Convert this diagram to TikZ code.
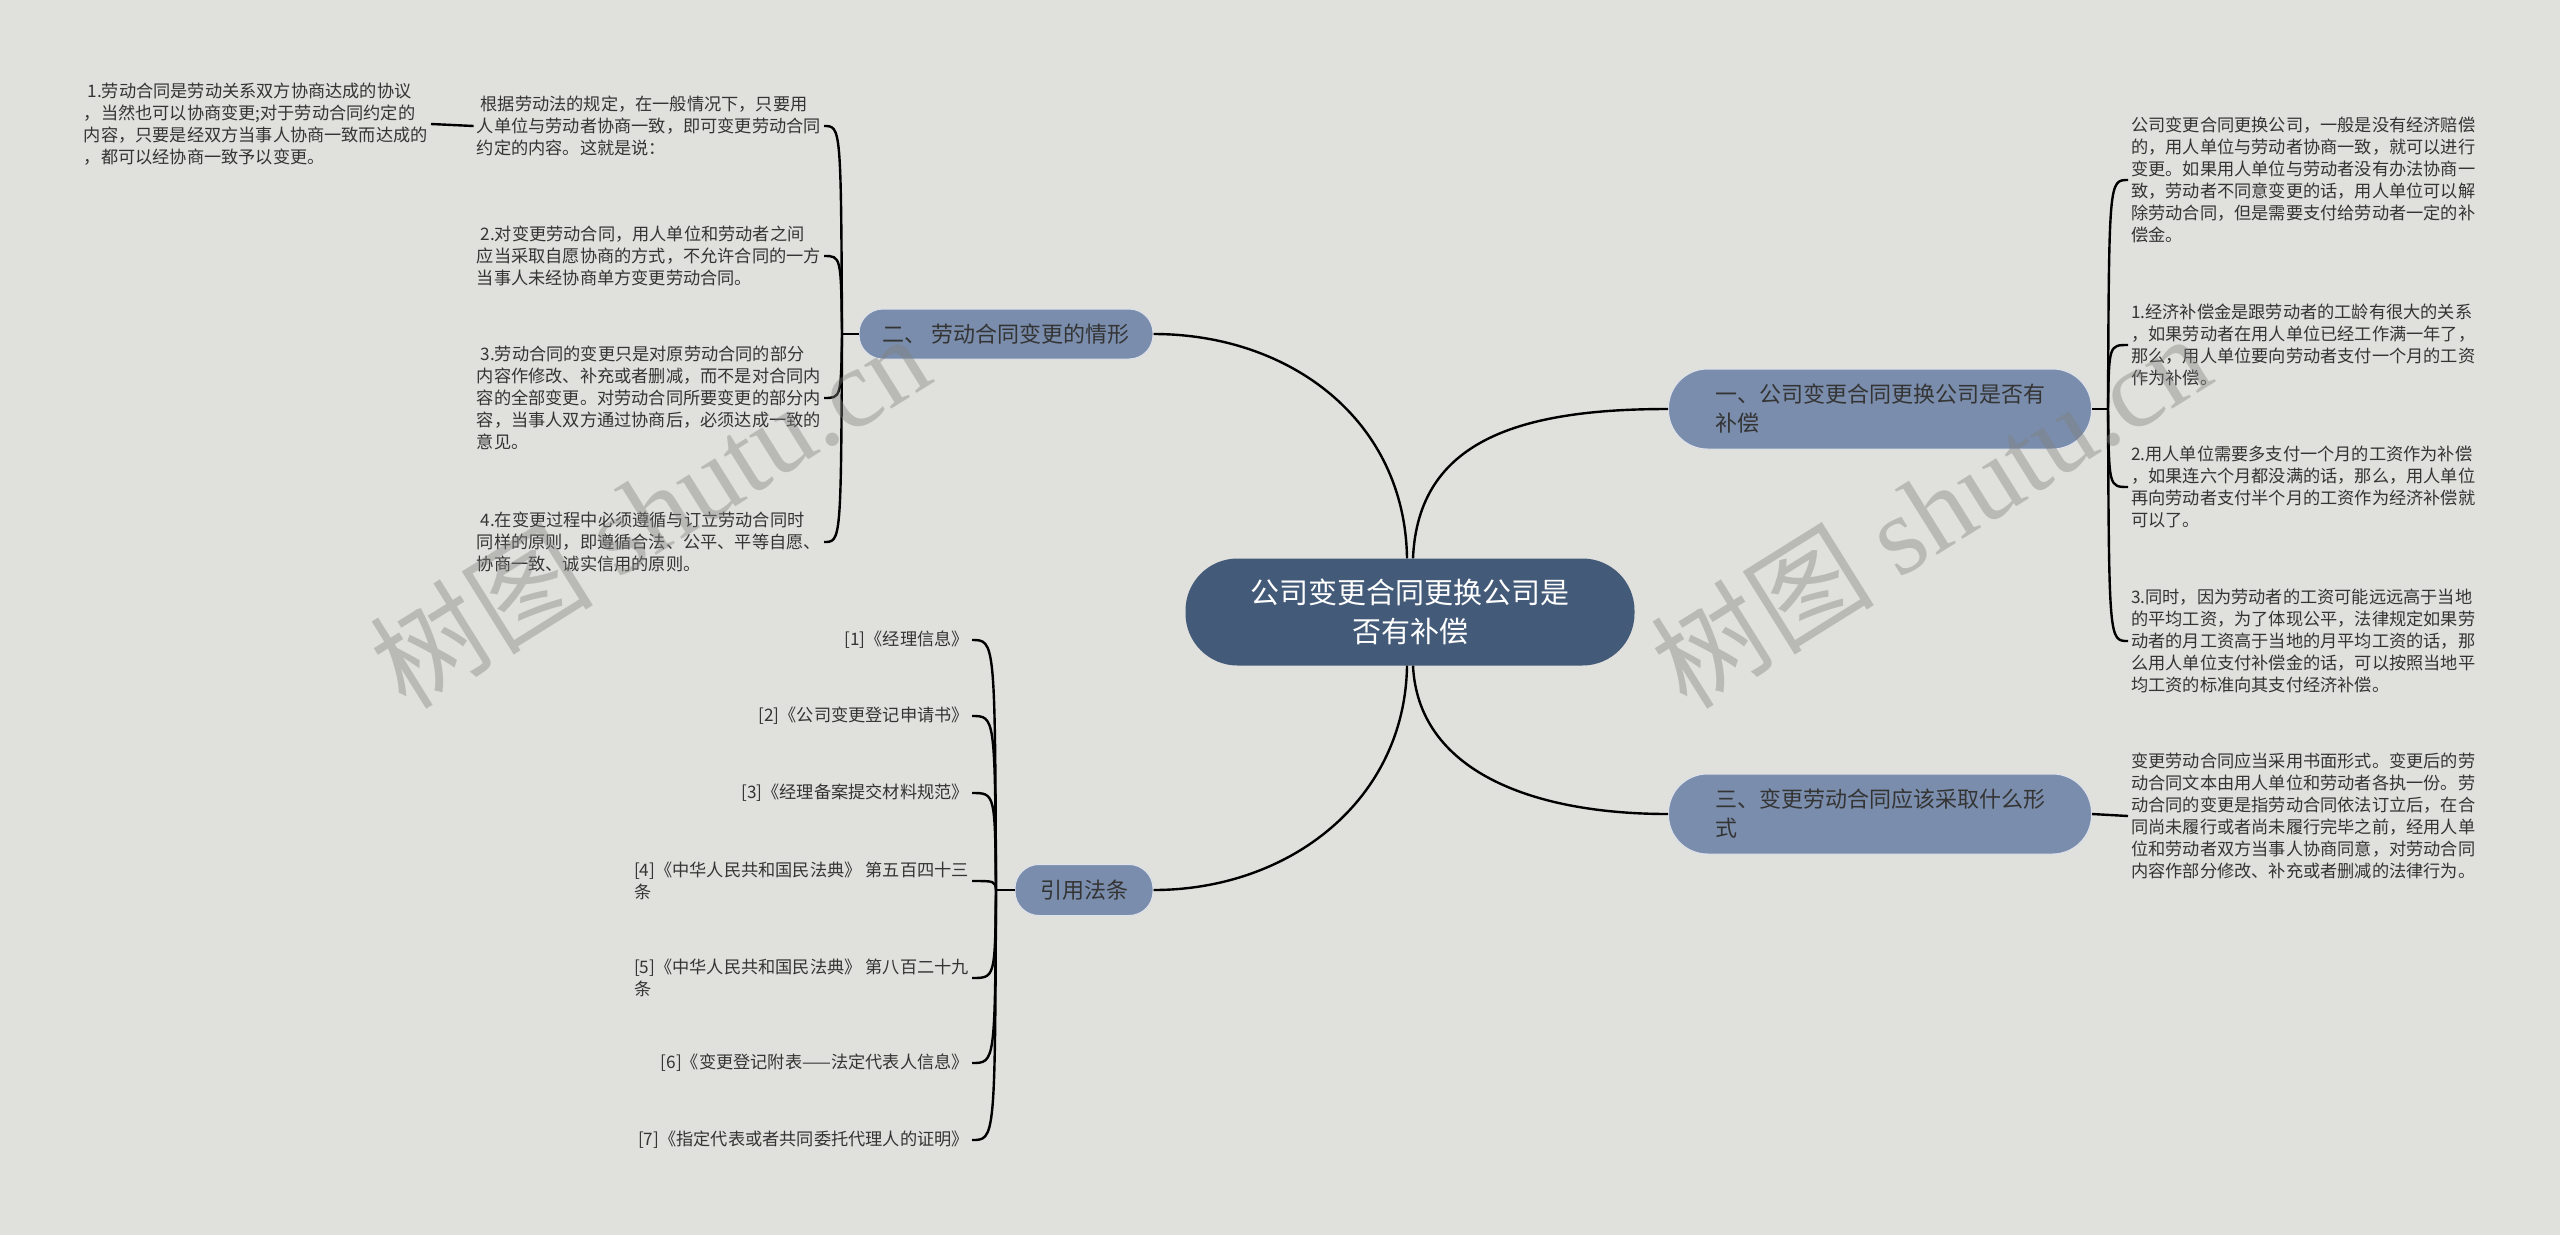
\documentclass[tikz,border=0pt]{standalone}
\usepackage{fontspec}
\setmainfont{Noto Sans CJK SC}
\newfontfamily\wmlatin{Liberation Serif}
\usepackage{tikz}

\definecolor{bgcol}{RGB}{224,224,220}
\definecolor{rootcol}{RGB}{67,90,121}
\definecolor{branchcol}{RGB}{122,141,172}
\definecolor{inktext}{RGB}{52,52,52}
\definecolor{wmcol}{RGB}{128,128,124}

\begin{document}
\begin{tikzpicture}[x=1pt,y=-1pt,
  link/.style={line width=2.4pt,black},
  rootbox/.style={fill=rootcol,text=white,rounded corners=52pt,minimum width=449pt,minimum height=107pt,align=center,font=\fontsize{29}{39}\selectfont},
  branchbox/.style={fill=branchcol,text=inktext,draw=white!75!branchcol,line width=1pt,align=left,font=\fontsize{22}{29}\selectfont},
  leaf/.style={text=inktext,align=left,inner sep=3pt,font=\fontsize{17.2}{22}\selectfont},
  wmark/.style={text=wmcol,opacity=0.4,rotate=32,font=\fontsize{112}{112}\selectfont}]

\useasboundingbox (0,0) rectangle (2560,1235);
\fill [bgcol] (0,0) rectangle (2560,1235);

%root and branches
\node [rootbox] (root) at (1410,612) {公司变更合同更换公司是\\否有补偿};
\node [branchbox,minimum width=423pt,minimum height=80pt,rounded corners=39pt] (b1) at (1880,409) {一、公司变更合同更换公司是否有\\补偿};
\node [branchbox,minimum width=294pt,minimum height=50pt,rounded corners=24pt] (b2) at (1006,334) {二、 劳动合同变更的情形};
\node [branchbox,minimum width=423pt,minimum height=80pt,rounded corners=39pt] (b3) at (1880,814) {三、变更劳动合同应该采取什么形\\式};
\node [branchbox,minimum width=138pt,minimum height=51pt,rounded corners=24pt] (b4) at (1084,890) {引用法条};

\draw [link] ([xshift=-3pt]root.north) .. controls (1405,420) and (1290,334) .. (b2.east);
\draw [link] ([xshift=3pt]root.north) .. controls (1418,440) and (1520,409) .. (b1.west);
\draw [link] ([xshift=-3pt]root.south) .. controls (1405,800) and (1290,890) .. (b4.east);
\draw [link] ([xshift=3pt]root.south) .. controls (1418,770) and (1530,814) .. (b3.west);

%second
\node [leaf,anchor=east] (l1) at (824,126) {\ 根据劳动法的规定，在一般情况下，只要用\\人单位与劳动者协商一致，即可变更劳动合同\\约定的内容。这就是说：};
\node [leaf,anchor=east] (l2) at (824,256) {\ 2.对变更劳动合同，用人单位和劳动者之间\\应当采取自愿协商的方式，不允许合同的一方\\当事人未经协商单方变更劳动合同。};
\node [leaf,anchor=east] (l3) at (824,398) {\ 3.劳动合同的变更只是对原劳动合同的部分\\内容作修改、补充或者删减，而不是对合同内\\容的全部变更。对劳动合同所要变更的部分内\\容，当事人双方通过协商后，必须达成一致的\\意见。};
\node [leaf,anchor=east] (l4) at (824,542) {\ 4.在变更过程中必须遵循与订立劳动合同时\\同样的原则，即遵循合法、公平、平等自愿、\\协商一致、诚实信用的原则。};
\node [leaf,anchor=east] (l0) at (431,124) {\ 1.劳动合同是劳动关系双方协商达成的协议\\，当然也可以协商变更;对于劳动合同约定的\\内容，只要是经双方当事人协商一致而达成的\\，都可以经协商一致予以变更。};

\coordinate (j2) at (842,334);
\draw [link] (b2.west)--(j2);
\draw [link] (j2) .. controls (841,126) and (841,126) .. (l1.east);
\draw [link] (j2) .. controls (841,256) and (841,256) .. (l2.east);
\draw [link] (j2) .. controls (841,398) and (841,398) .. (l3.east);
\draw [link] (j2) .. controls (841,542) and (841,542) .. (l4.east);
\draw [link] (l0.east)--(l1.west);

%first
\node [leaf,anchor=west] (r0) at (2128,180) {公司变更合同更换公司，一般是没有经济赔偿\\的，用人单位与劳动者协商一致，就可以进行\\变更。如果用人单位与劳动者没有办法协商一\\致，劳动者不同意变更的话，用人单位可以解\\除劳动合同，但是需要支付给劳动者一定的补\\偿金。};
\node [leaf,anchor=west] (r1) at (2128,345) {1.经济补偿金是跟劳动者的工龄有很大的关系\\，如果劳动者在用人单位已经工作满一年了，\\那么，用人单位要向劳动者支付一个月的工资\\作为补偿。};
\node [leaf,anchor=west] (r2) at (2128,487) {2.用人单位需要多支付一个月的工资作为补偿\\，如果连六个月都没满的话，那么，用人单位\\再向劳动者支付半个月的工资作为经济补偿就\\可以了。};
\node [leaf,anchor=west] (r3) at (2128,641) {3.同时，因为劳动者的工资可能远远高于当地\\的平均工资，为了体现公平，法律规定如果劳\\动者的月工资高于当地的月平均工资的话，那\\么用人单位支付补偿金的话，可以按照当地平\\均工资的标准向其支付经济补偿。};

\coordinate (j1) at (2108,409);
\draw [link] (b1.east)--(j1);
\draw [link] (j1) .. controls (2109,180) and (2109,180) .. (r0.west);
\draw [link] (j1) .. controls (2109,345) and (2109,345) .. (r1.west);
\draw [link] (j1) .. controls (2109,487) and (2109,487) .. (r2.west);
\draw [link] (j1) .. controls (2109,641) and (2109,641) .. (r3.west);

%third
\node [leaf,anchor=west] (t1) at (2128,816) {变更劳动合同应当采用书面形式。变更后的劳\\动合同文本由用人单位和劳动者各执一份。劳\\动合同的变更是指劳动合同依法订立后，在合\\同尚未履行或者尚未履行完毕之前，经用人单\\位和劳动者双方当事人协商同意，对劳动合同\\内容作部分修改、补充或者删减的法律行为。};
\draw [link] (b3.east)--(t1.west);

%laws
\node [leaf,anchor=east] (c1) at (972,640) {[1]《经理信息》};
\node [leaf,anchor=east] (c2) at (972,716) {[2]《公司变更登记申请书》};
\node [leaf,anchor=east] (c3) at (972,793) {[3]《经理备案提交材料规范》};
\node [leaf,anchor=east] (c4) at (972,881) {[4]《中华人民共和国民法典》 第五百四十三\\条};
\node [leaf,anchor=east] (c5) at (972,978) {[5]《中华人民共和国民法典》 第八百二十九\\条};
\node [leaf,anchor=east] (c6) at (972,1063) {[6]《变更登记附表——法定代表人信息》};
\node [leaf,anchor=east] (c7) at (972,1140) {[7]《指定代表或者共同委托代理人的证明》};

\coordinate (j4) at (996,890);
\draw [link] (b4.west)--(j4);
\draw [link] (j4) .. controls (995,640) and (995,640) .. (c1.east);
\draw [link] (j4) .. controls (995,716) and (995,716) .. (c2.east);
\draw [link] (j4) .. controls (995,793) and (995,793) .. (c3.east);
\draw [link] (j4) .. controls (995,881) and (995,881) .. (c4.east);
\draw [link] (j4) .. controls (995,978) and (995,978) .. (c5.east);
\draw [link] (j4) .. controls (995,1063) and (995,1063) .. (c6.east);
\draw [link] (j4) .. controls (995,1140) and (995,1140) .. (c7.east);

%watermark
\node [wmark] (wm1) at (649,510) {树图 {\wmlatin shutu.cn}};
\node [wmark] (wm2) at (1930,510) {树图 {\wmlatin shutu.cn}};

\end{tikzpicture}
\end{document}
